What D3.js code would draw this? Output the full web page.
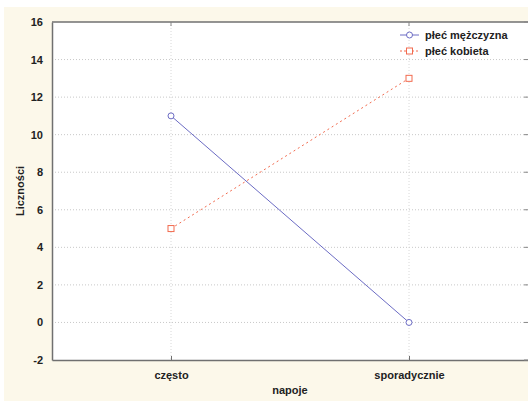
<!DOCTYPE html>
<html>
<head>
<meta charset="utf-8">
<script src="https://cdn.jsdelivr.net/npm/d3@7"></script>
<style>
  body { margin: 0; background: #fff; }
  text { font-family: "Liberation Sans", Arial, sans-serif; }
</style>
</head>
<body>
<div id="container"></div>
<script>
const categories = ["często", "sporadycznie"];
const seriesNames = ["płeć mężczyzna", "płeć kobieta"];
const male = [11, 0];
const female = [5, 13];
const yTicks = [-2, 0, 2, 4, 6, 8, 10, 12, 14, 16];

const width = 528, height = 401;
const margin = {top: 22, right: 0, bottom: 41, left: 52};

const svg = d3.select("#container").append("svg")
    .attr("width", width)
    .attr("height", height);

// cream background
svg.append("rect")
    .attr("x", 4).attr("y", 7)
    .attr("width", width - 4).attr("height", height - 7)
    .attr("fill", "#fcf8ea");

svg.append("rect")
    .attr("x", margin.left).attr("y", margin.top)
    .attr("width", width - margin.left - margin.right)
    .attr("height", height - margin.top - margin.bottom)
    .attr("fill", "#fff");

const x = d3.scalePoint()
    .domain(categories)
    .range([margin.left, width - margin.right])
    .padding(0.5);

const y = d3.scaleLinear()
    .domain([-2, 16])
    .range([height - margin.bottom, margin.top]);

// grid
svg.append("g").selectAll("line")
    .data(yTicks.slice(1, -1))
    .join("line")
    .attr("x1", margin.left).attr("x2", width)
    .attr("y1", d => y(d)).attr("y2", d => y(d))
    .attr("stroke", "#c8c8c8")
    .attr("stroke-dasharray", "1,2");

svg.append("g").selectAll("line")
    .data(categories)
    .join("line")
    .attr("x1", d => x(d)).attr("x2", d => x(d))
    .attr("y1", margin.top).attr("y2", height - margin.bottom)
    .attr("stroke", "#d8d8d8")
    .attr("stroke-dasharray", "1,2");

// axes
const yAxis = svg.append("g")
    .attr("transform", `translate(${margin.left},0)`)
    .call(d3.axisLeft(y).tickValues(yTicks).tickFormat(d => String(d)).tickSize(0).tickPadding(9));
yAxis.select(".domain").attr("stroke", "#707070").attr("stroke-width", 1.5);
yAxis.selectAll("text").attr("font-size", 11).attr("font-weight", "bold").attr("fill", "#222");

const xAxis = svg.append("g")
    .attr("transform", `translate(0,${height - margin.bottom})`)
    .call(d3.axisBottom(x).tickSize(-4).tickPadding(11).tickSizeOuter(0));
xAxis.select(".domain").attr("stroke", "#707070").attr("stroke-width", 1.5);
xAxis.selectAll(".tick line").attr("stroke", "#707070");
xAxis.selectAll("text").attr("font-size", 11).attr("font-weight", "bold").attr("fill", "#222");

// top border
svg.append("line")
    .attr("x1", margin.left).attr("x2", width)
    .attr("y1", margin.top).attr("y2", margin.top)
    .attr("stroke", "#707070").attr("stroke-width", 1.5);

// right side small ticks
svg.append("g").selectAll("line")
    .data(yTicks)
    .join("line")
    .attr("x1", width - 4).attr("x2", width)
    .attr("y1", d => y(d)).attr("y2", d => y(d))
    .attr("stroke", "#888");

// top ticks
svg.append("g").selectAll("line")
    .data(categories)
    .join("line")
    .attr("x1", d => x(d)).attr("x2", d => x(d))
    .attr("y1", margin.top).attr("y2", margin.top + 4)
    .attr("stroke", "#888");

// axis titles
svg.append("text")
    .attr("x", (margin.left + width) / 2)
    .attr("y", 394)
    .attr("text-anchor", "middle")
    .attr("font-size", 11).attr("font-weight", "bold").attr("fill", "#222")
    .text("napoje");

svg.append("text")
    .attr("transform", `translate(24,${y(7)}) rotate(-90)`)
    .attr("text-anchor", "middle")
    .attr("font-size", 11).attr("font-weight", "bold").attr("fill", "#222")
    .text("Liczności");

const line = d3.line()
    .x((d, i) => x(categories[i]))
    .y(d => y(d));

const maleColor = "#6c6cc4";
const femaleColor = "#f26b4f";

svg.append("path")
    .datum(male)
    .attr("d", line)
    .attr("fill", "none")
    .attr("stroke", maleColor)
    .attr("stroke-width", 1);

svg.append("path")
    .datum(female)
    .attr("d", line)
    .attr("fill", "none")
    .attr("stroke", femaleColor)
    .attr("stroke-width", 1)
    .attr("stroke-dasharray", "2,3");

svg.append("g").selectAll("circle")
    .data(male)
    .join("circle")
    .attr("cx", (d, i) => x(categories[i]))
    .attr("cy", d => y(d))
    .attr("r", 3)
    .attr("fill", "#fff")
    .attr("stroke", maleColor);

svg.append("g").selectAll("rect")
    .data(female)
    .join("rect")
    .attr("x", (d, i) => x(categories[i]) - 3)
    .attr("y", d => y(d) - 3)
    .attr("width", 6).attr("height", 6)
    .attr("fill", "#fff")
    .attr("stroke", femaleColor);

// legend
const legend = svg.append("g").attr("transform", "translate(400,35)");
legend.append("line")
    .attr("x1", 0).attr("x2", 19).attr("y1", 0).attr("y2", 0)
    .attr("stroke", maleColor);
legend.append("circle")
    .attr("cx", 9.5).attr("cy", 0).attr("r", 3)
    .attr("fill", "#fff").attr("stroke", maleColor);
legend.append("text")
    .attr("x", 25).attr("y", 4)
    .attr("font-size", 11).attr("font-weight", "bold").attr("fill", "#222")
    .text(seriesNames[0]);

legend.append("line")
    .attr("x1", 0).attr("x2", 19).attr("y1", 16).attr("y2", 16)
    .attr("stroke", femaleColor).attr("stroke-dasharray", "2,2");
legend.append("rect")
    .attr("x", 6.5).attr("y", 13).attr("width", 6).attr("height", 6)
    .attr("fill", "#fff").attr("stroke", femaleColor);
legend.append("text")
    .attr("x", 25).attr("y", 20)
    .attr("font-size", 11).attr("font-weight", "bold").attr("fill", "#222")
    .text(seriesNames[1]);
</script>
</body>
</html>
